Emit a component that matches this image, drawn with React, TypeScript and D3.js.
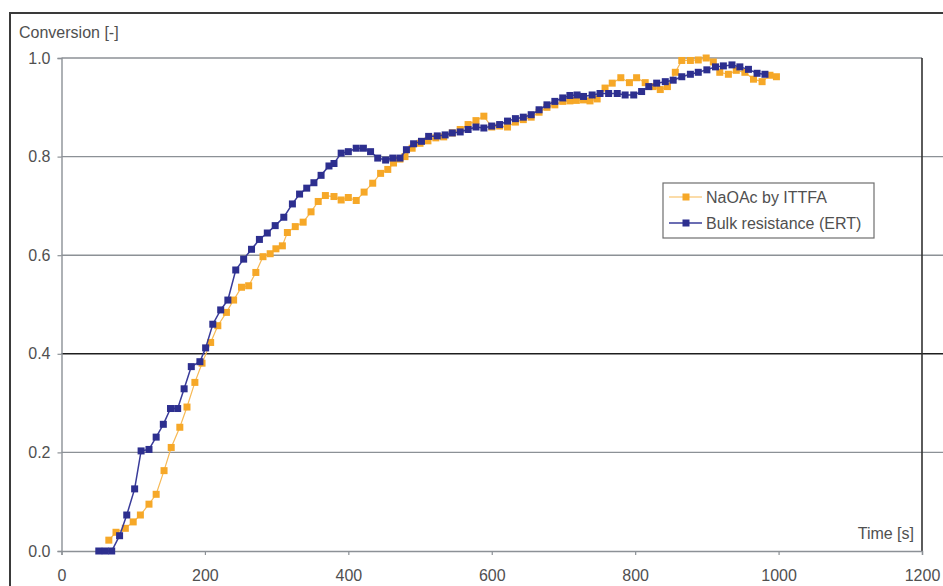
import React, { useEffect, useRef } from "react";
import * as d3 from "d3";

// time [s] and conversion [-]
const ittfaTime = [
  66, 76, 89, 100, 110, 122, 132, 143, 153, 165, 175, 186, 196, 208, 218, 230,
  240, 251, 261, 271, 281, 291, 299, 308, 315, 326, 337, 348, 358, 368, 380,
  390, 400, 411, 422, 434, 445, 455, 463, 472, 479, 489, 500, 511, 522, 533,
  545, 556, 567, 578, 589, 600, 611, 622, 633, 644, 655, 666, 677, 688, 699,
  709, 718, 728, 737, 747, 758, 768, 780, 792, 802, 814, 825, 835, 845, 856,
  865, 877, 888, 899, 909, 918, 930, 941, 953, 965, 977, 988, 997,
];
const ittfaConv = [
  0.022, 0.038, 0.046, 0.059, 0.073, 0.095, 0.115, 0.163, 0.21, 0.251, 0.292,
  0.342, 0.381, 0.423, 0.457, 0.484, 0.509, 0.535, 0.538, 0.565, 0.597, 0.603,
  0.613, 0.619, 0.646, 0.658, 0.667, 0.688, 0.709, 0.721, 0.719, 0.712, 0.717,
  0.711, 0.728, 0.746, 0.766, 0.774, 0.787, 0.795, 0.8, 0.817, 0.827, 0.832,
  0.838, 0.84, 0.848, 0.855, 0.865, 0.873, 0.882, 0.86, 0.862, 0.86, 0.87,
  0.875, 0.88, 0.89, 0.9, 0.905, 0.912, 0.913, 0.914, 0.915, 0.913, 0.917,
  0.939, 0.949, 0.96, 0.95, 0.96, 0.95, 0.942, 0.936, 0.942, 0.971, 0.995,
  0.995, 0.996, 1.0, 0.992, 0.971, 0.967, 0.975, 0.971, 0.957, 0.952, 0.965,
  0.962,
];

const ertTime = [
  52, 61, 70, 81, 91, 102, 111, 122, 132, 142, 152, 162, 171, 181, 193, 201,
  211, 222, 232, 243, 254, 265, 276, 287, 298, 310, 322, 332, 342, 352, 362,
  373, 380, 390, 400, 411, 421, 431, 441, 452, 462, 472, 481, 491, 502, 512,
  524, 535, 545, 556, 567, 578, 589, 600, 611, 622, 633, 644, 655, 666, 677,
  688, 699, 709, 719, 728, 740, 751, 763, 775, 786, 798, 809, 819, 830, 842,
  853, 865, 877, 888, 900, 912, 923, 935, 946, 958, 970, 981,
];
const ertConv = [
  0, 0, 0, 0.031, 0.073, 0.126, 0.203, 0.206, 0.231, 0.257, 0.289, 0.289,
  0.329, 0.374, 0.384, 0.412, 0.46, 0.489, 0.509, 0.57, 0.592, 0.612, 0.632,
  0.645, 0.66, 0.677, 0.704, 0.724, 0.736, 0.747, 0.762, 0.781, 0.786, 0.807,
  0.81, 0.817, 0.817, 0.81, 0.797, 0.793, 0.797, 0.797, 0.814, 0.826, 0.831,
  0.841, 0.842, 0.844, 0.848, 0.85, 0.855, 0.86, 0.858, 0.862, 0.865, 0.872,
  0.877, 0.88, 0.885, 0.895, 0.905, 0.912, 0.919, 0.924, 0.925, 0.922, 0.925,
  0.928, 0.928, 0.928, 0.925, 0.925, 0.932, 0.942, 0.949, 0.952, 0.955, 0.962,
  0.967, 0.971, 0.976, 0.982, 0.984, 0.986, 0.982, 0.977, 0.969, 0.967,
];

const xTicks = [0, 200, 400, 600, 800, 1000, 1200];
const yTicks = [0, 0.2, 0.4, 0.6, 0.8, 1.0];

const seriesNames = ["NaOAc by ITTFA", "Bulk resistance (ERT)"];

const App = () => {
  const ref = useRef<SVGSVGElement | null>(null);

  useEffect(() => {
    const svg = d3.select(ref.current);
    svg.selectAll("*").remove();

    const font = "Liberation Sans, Arial, sans-serif";
    const textColor = "#505050";

    const x = d3.scaleLinear().domain([0, 1200]).range([61.5, 922]);
    const y = d3.scaleLinear().domain([0, 1]).range([551, 58]);

    svg.append("rect").attr("width", 943).attr("height", 586).attr("fill", "#fff");

    // outer frame (runs off the right and bottom edges)
    svg
      .append("rect")
      .attr("x", 10)
      .attr("y", 13)
      .attr("width", 960)
      .attr("height", 600)
      .attr("fill", "none")
      .attr("stroke", "#3a3a3a")
      .attr("stroke-width", 2);

    // gridlines: the inner ones run past the plot border
    svg
      .append("g")
      .selectAll("line")
      .data(yTicks.filter((d) => d > 0))
      .join("line")
      .attr("x1", x(0))
      .attr("x2", (d) => (d < 1 ? 943 : x(1200)))
      .attr("y1", (d) => y(d))
      .attr("y2", (d) => y(d))
      .attr("stroke", (d) => (Math.abs(d - 0.4) < 1e-6 ? "#1e1e1e" : "#8c9196"))
      .attr("stroke-width", (d) => (Math.abs(d - 0.4) < 1e-6 ? 1.6 : 1.4));

    // right border
    svg
      .append("line")
      .attr("x1", x(1200))
      .attr("x2", x(1200))
      .attr("y1", y(1))
      .attr("y2", y(0))
      .attr("stroke", "#333")
      .attr("stroke-width", 1.6);

    // axes
    const xAxis = svg
      .append("g")
      .attr("transform", `translate(0,${y(0)})`)
      .call(d3.axisBottom(x).tickValues(xTicks).tickSize(4).tickPadding(15).tickFormat(d3.format("d")));
    const yAxis = svg
      .append("g")
      .attr("transform", `translate(${x(0)},0)`)
      .call(d3.axisLeft(y).tickValues(yTicks).tickSize(4).tickPadding(7).tickFormat(d3.format(".1f")));

    [xAxis, yAxis].forEach((g) => {
      g.select(".domain").attr("stroke", "#8c9196").attr("stroke-width", 1.4);
      g.selectAll(".tick line").attr("stroke", "#8c9196").attr("stroke-width", 1.2);
      g.selectAll("text")
        .attr("fill", textColor)
        .style("font-family", font)
        .style("font-size", "16px");
    });

    svg
      .append("text")
      .attr("x", 19)
      .attr("y", 38)
      .attr("fill", textColor)
      .style("font-family", font)
      .style("font-size", "16px")
      .text("Conversion [-]");

    svg
      .append("text")
      .attr("x", 914)
      .attr("y", 539)
      .attr("text-anchor", "end")
      .attr("fill", textColor)
      .style("font-family", font)
      .style("font-size", "16px")
      .text("Time [s]");

    const series = [
      { name: seriesNames[0], t: ittfaTime, v: ittfaConv, color: "#f6a828", line: "#f7b955", lw: 1.2 },
      { name: seriesNames[1], t: ertTime, v: ertConv, color: "#2d2f8f", line: "#3a3c9a", lw: 1.5 },
    ];

    const line = d3
      .line<[number, number]>()
      .x((d) => x(d[0]))
      .y((d) => y(d[1]));

    const m = 7;
    series.forEach((s) => {
      const pts: [number, number][] = s.t.map((t, i) => [t, s.v[i]]);
      svg
        .append("path")
        .datum(pts)
        .attr("d", line)
        .attr("fill", "none")
        .attr("stroke", s.line)
        .attr("stroke-width", s.lw);
      svg
        .append("g")
        .selectAll("rect")
        .data(pts)
        .join("rect")
        .attr("x", (d) => x(d[0]) - m / 2)
        .attr("y", (d) => y(d[1]) - m / 2)
        .attr("width", m)
        .attr("height", m)
        .attr("fill", s.color);
    });

    // legend
    const legend = svg.append("g");
    legend
      .append("rect")
      .attr("x", 663)
      .attr("y", 183)
      .attr("width", 211)
      .attr("height", 55)
      .attr("fill", "#fff")
      .attr("stroke", "#6e6e6e")
      .attr("stroke-width", 1.2);

    const item = legend
      .selectAll("g")
      .data(series)
      .join("g")
      .attr("transform", (d, i) => `translate(0,${197 + i * 26})`);
    item
      .append("line")
      .attr("x1", 669)
      .attr("x2", 702)
      .attr("stroke", (d) => d.line)
      .attr("stroke-width", (d) => d.lw);
    item
      .append("rect")
      .attr("x", 686 - m / 2)
      .attr("y", -m / 2)
      .attr("width", m)
      .attr("height", m)
      .attr("fill", (d) => d.color);
    item
      .append("text")
      .attr("x", 706)
      .attr("y", 6)
      .attr("fill", textColor)
      .style("font-family", font)
      .style("font-size", "16px")
      .text((d) => d.name);
  }, []);

  return (
    <svg
      ref={ref}
      width={943}
      height={586}
      style={{ position: "absolute", left: 0, top: 0, display: "block" }}
    />
  );
};

export default App;
